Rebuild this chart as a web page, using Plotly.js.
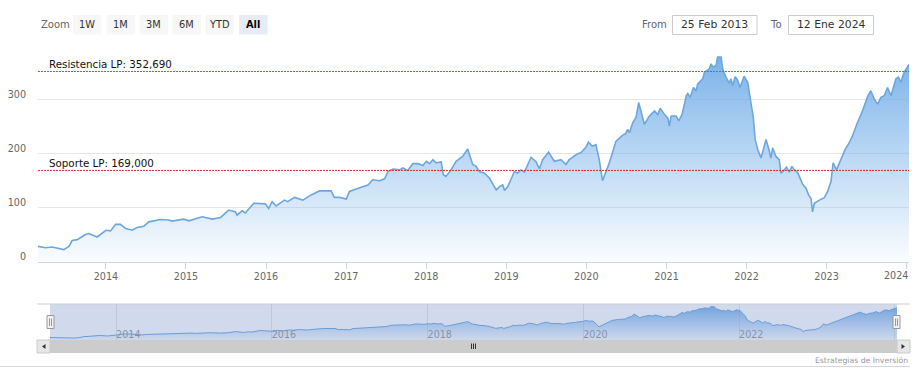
<!DOCTYPE html>
<html>
<head>
<meta charset="utf-8">
<script src="https://cdn.plot.ly/plotly-3.0.1.min.js"></script>
<style>
html,body{margin:0;padding:0;background:#fff;}
#chart{width:919px;height:376px;}
</style>
</head>
<body>
<div id="chart"></div>
<script>
// ---- data ----
const dates = [
'2013-02-25','2013-04-01','2013-05-01','2013-05-31','2013-06-22','2013-07-16','2013-07-31','2013-08-23','2013-09-30','2013-10-15','2013-11-22',
'2014-01-01','2014-01-22','2014-02-14','2014-03-08','2014-04-01','2014-05-01','2014-05-23','2014-06-23','2014-07-15','2014-09-07','2014-10-14','2014-10-30','2014-12-22',
'2015-01-14','2015-03-16','2015-05-01','2015-06-08','2015-07-15','2015-08-15','2015-08-22','2015-09-14','2015-09-29','2015-11-06','2015-12-29',
'2016-01-13','2016-01-29','2016-02-16','2016-03-25','2016-04-09','2016-05-10','2016-06-17','2016-07-25','2016-09-01','2016-10-24','2016-11-08','2016-12-01',
'2017-01-01','2017-01-16','2017-03-03','2017-04-10','2017-05-02','2017-06-02','2017-06-25','2017-07-10','2017-08-02','2017-09-01','2017-09-16','2017-10-09','2017-11-01','2017-11-24','2017-12-17',
'2018-01-01','2018-01-16','2018-01-31','2018-02-15','2018-03-10','2018-03-20','2018-04-01','2018-04-24','2018-05-17','2018-06-16','2018-07-09','2018-07-17','2018-08-01','2018-08-16','2018-08-31','2018-09-23','2018-10-16','2018-11-16','2018-12-01','2018-12-16','2018-12-24',
'2019-01-08','2019-01-23','2019-02-07','2019-02-22','2019-03-09','2019-03-25','2019-04-24','2019-05-17','2019-06-01','2019-06-16','2019-07-13','2019-08-08','2019-09-07','2019-09-30','2019-10-15','2019-11-22','2019-12-07','2019-12-30',
'2020-01-11','2020-01-29','2020-02-14','2020-02-29','2020-03-15','2020-04-15','2020-05-15','2020-06-15','2020-06-27','2020-07-08','2020-07-16','2020-07-31','2020-08-15','2020-08-27','2020-09-07','2020-09-22','2020-10-15','2020-11-07','2020-11-22','2020-12-03','2020-12-23',
'2021-01-07','2021-01-14','2021-01-22','2021-02-14','2021-02-26','2021-03-13','2021-04-01','2021-04-08','2021-04-19','2021-05-04','2021-05-16','2021-05-23','2021-06-15','2021-06-23','2021-07-15','2021-07-23','2021-07-31','2021-08-15','2021-08-22','2021-09-07','2021-09-14','2021-09-29','2021-10-14','2021-10-22','2021-10-29','2021-11-10','2021-11-21','2021-12-02','2021-12-21',
'2022-01-06','2022-01-21','2022-02-01','2022-02-09','2022-02-21','2022-03-08','2022-03-23','2022-03-31','2022-04-15','2022-04-22','2022-04-30','2022-05-15','2022-05-30','2022-06-07','2022-06-22','2022-07-02','2022-07-15','2022-07-27','2022-08-07','2022-08-22','2022-09-14','2022-09-29','2022-10-11','2022-10-22','2022-10-29','2022-11-06','2022-11-29','2022-12-22',
'2023-01-06','2023-01-21','2023-01-31','2023-02-15','2023-03-07','2023-03-27','2023-04-14','2023-04-29','2023-05-22','2023-06-14','2023-07-07','2023-07-22','2023-08-07','2023-08-22','2023-09-06','2023-09-21','2023-10-06','2023-10-22','2023-11-13','2023-11-25','2023-12-06','2023-12-21','2024-01-12'
];
const prices = [
28,25.6,27,24,22,28,39,40.6,50,52,45.5,
58,56.8,69,69,61,58,63,65.5,73.6,78,77,75,78.6,
75.5,83,78.6,81.8,95.5,92,86,94,90,108,107,
98.6,111,103,114,111,119,114,123.6,131,131,119,119,
116,130,137,142,151.7,150,153.5,167,171.7,170,173.6,169,181.6,181.6,178,
186,181.6,189,183,185,161,158,170,186,195,209,198.5,180,176.6,167,164,155,133,139,142,131.6,
139,151.7,167,164,170,166,193.5,185,172,189,203,186,189,180,189,200,201.7,212,
221.5,214,217,189,150,183,223,234.6,237,245,239,258,268,295,276.6,254.7,270,279.6,273,284.6,273,
266,251.5,270,270,261,273,307.7,312,304.7,323,317,329.6,339,351.5,357.7,367,361,364,379.6,379.6,357.7,342,331,339,326,343,337,323,344,
332.7,298,267,226.6,208,192,214,226.6,204.7,192,211,195,189,164,170,175,166,176.6,170,165,143.6,136,123.6,117,92,108,114,118.5,
130,148.5,183,170,189,208,220,233,258,279.6,306,317,301.5,292,304.7,307.7,323,307.7,339,342,332.7,351.5,365.7
];
const resistencia = 352.69;
const soporte = 169.0;
const resistenciaLabel = 'Resistencia LP: 352,690';
const soporteLabel = 'Soporte LP: 169,000';
const yTickVals = [0,100,200,300,400];
const yTickText = ['0','100','200','300',''];
const xTickVals = ['2014-01-01','2015-01-01','2016-01-01','2017-01-01','2018-01-01','2019-01-01','2020-01-01','2021-01-01','2022-01-01','2023-01-01','2024-01-01'];
const xTickText = ['2014','2015','2016','2017','2018','2019','2020','2021','2022','2023',''];
const lastYearLabel = '2024';
const zoomButtons = ['1W','1M','3M','6M','YTD','All'];
const fromText = '25 Feb 2013';
const toText = '12 Ene 2024';
const creditText = 'Estrategias de Inversión';

// ---- helpers (pixel -> paper) ----
const W = 919, H = 376;
const px = x => x / W;
const py = y => 1 - y / H;
const FONT = 'DejaVu Sans, Verdana, sans-serif';

const gradient = {
  type: 'vertical',
  colorscale: [[0, 'rgba(124,181,236,0.04)'], [1, 'rgba(116,174,232,0.95)']],
  start: 0, stop: 380
};

const mainTrace = {
  x: dates, y: prices, type: 'scatter', mode: 'lines',
  line: {color: '#6ea7de', width: 1.6},
  fill: 'tozeroy', fillgradient: gradient,
  xaxis: 'x', yaxis: 'y', hoverinfo: 'skip'
};
const navTrace = {
  x: dates, y: prices, type: 'scatter', mode: 'lines',
  line: {color: '#6ea7de', width: 1},
  fill: 'tozeroy', fillgradient: gradient,
  xaxis: 'x2', yaxis: 'y2', hoverinfo: 'skip'
};

const shapes = [];
const annotations = [];

function rect(x0, y0, x1, y1, fill, line, layer) {
  shapes.push({type: 'rect', xref: 'paper', yref: 'paper',
    x0: px(x0), x1: px(x1), y0: py(y1), y1: py(y0),
    fillcolor: fill, line: line ? {color: line, width: 1} : {width: 0},
    layer: layer || 'above'});
}
function hline(x0, x1, y, color, layer) {
  shapes.push({type: 'line', xref: 'paper', yref: 'paper',
    x0: px(x0), x1: px(x1), y0: py(y), y1: py(y), line: {color: color, width: 1}, layer: layer || 'above'});
}
function vline(x, y0, y1, color) {
  shapes.push({type: 'line', xref: 'paper', yref: 'paper',
    x0: px(x), x1: px(x), y0: py(y0), y1: py(y1), line: {color: color, width: 1}, layer: 'above'});
}
function text(t, x, y, xanchor, size, color, bold) {
  annotations.push({text: bold ? '<b>' + t + '</b>' : t, xref: 'paper', yref: 'paper',
    x: px(x), y: py(y), xanchor: xanchor, yanchor: 'middle', showarrow: false,
    font: {family: FONT, size: size, color: color}});
}

// support / resistance plot lines
shapes.push({type: 'line', xref: 'x domain', yref: 'y', x0: 0, x1: 1, y0: resistencia, y1: resistencia,
  line: {color: '#35a035', width: 1, dash: '2px,1px'}, layer: 'above'});
shapes.push({type: 'line', xref: 'x domain', yref: 'y', x0: 0, x1: 1, y0: soporte, y1: soporte,
  line: {color: '#d0303a', width: 1, dash: '2px,1px'}, layer: 'above'});
annotations.push({text: resistenciaLabel, xref: 'x domain', yref: 'y', x: 0, y: resistencia,
  xanchor: 'left', yanchor: 'bottom', xshift: 9, yshift: -1, showarrow: false,
  font: {family: FONT, size: 10.3, color: '#111'}});
annotations.push({text: soporteLabel, xref: 'x domain', yref: 'y', x: 0, y: soporte,
  xanchor: 'left', yanchor: 'bottom', xshift: 9, yshift: -1, showarrow: false,
  font: {family: FONT, size: 10.3, color: '#111'}});

// last x label kept inside the chart (as the original does)
text(lastYearLabel, 909.5, 275.5, 'right', 9.6, '#666');

// range selector
text('Zoom', 38.5, 24.5, 'left', 10, '#666');
const btnX = [[73,101.5],[106.5,135],[139.5,168],[172.5,201],[205.5,234],[239,267.5]];
zoomButtons.forEach((b, i) => {
  const sel = b === 'All';
  rect(btnX[i][0], 15, btnX[i][1], 34.5, sel ? '#e6ebf5' : '#f7f7f7', null);
  text(b, (btnX[i][0] + btnX[i][1]) / 2, 24.5, 'center', 9.8, sel ? '#000' : '#333', sel);
});
// date inputs
text('From', 639.5, 24.5, 'left', 10, '#666');
rect(672.5, 15.5, 757, 34.5, '#fff', '#cccccc');
text(fromText, 714.8, 24.8, 'center', 10.8, '#333');
text('To', 767.5, 24.5, 'left', 10, '#666');
rect(788.5, 15.5, 873.5, 34.5, '#fff', '#cccccc');
text(toText, 831, 24.8, 'center', 10.8, '#333');

// navigator
rect(50, 304, 897, 340, 'rgba(102,133,194,0.3)', null, 'above');
hline(37, 910, 304, '#cccccc');
// handles
[[47, 54], [893, 900]].forEach(h => {
  rect(h[0], 315.5, h[1], 328.5, '#f2f2f2', '#999999');
  vline(h[0] + 2.5, 318.5, 326, '#999999');
  vline(h[0] + 4.5, 318.5, 326, '#999999');
});
// scrollbar
rect(50, 340, 897, 353, '#cccccc', null);
rect(37, 340, 50, 353, '#e6e6e6', '#cccccc');
rect(897, 340, 910, 353, '#e6e6e6', '#cccccc');
shapes.push({type: 'path', xref: 'paper', yref: 'paper',
  path: `M ${px(45.5)} ${py(344)} L ${px(42)} ${py(346.5)} L ${px(45.5)} ${py(349)} Z`,
  fillcolor: '#333', line: {width: 0}, layer: 'above'});
shapes.push({type: 'path', xref: 'paper', yref: 'paper',
  path: `M ${px(901.5)} ${py(344)} L ${px(905)} ${py(346.5)} L ${px(901.5)} ${py(349)} Z`,
  fillcolor: '#333', line: {width: 0}, layer: 'above'});
[471.5, 473.5, 475.5].forEach(x => vline(x, 343.5, 349, '#333'));

// credits and bottom border
text(creditText, 909.5, 360, 'right', 7.7, '#999');
hline(0, 910, 366.5, '#d6d6e4');

const layout = {
  width: W, height: H,
  margin: {l: 0, r: 0, t: 0, b: 0},
  paper_bgcolor: '#fff', plot_bgcolor: '#fff',
  showlegend: false,
  xaxis: {
    domain: [px(38), px(909)], anchor: 'y', type: 'date',
    range: [dates[0], dates[dates.length - 1]],
    showgrid: false, zeroline: false,
    showline: true, linecolor: '#ccd6eb', linewidth: 1,
    ticks: 'outside', ticklen: 6, tickcolor: '#ccd6eb', tickwidth: 1,
    tickvals: xTickVals, ticktext: xTickText,
    tickfont: {family: FONT, size: 9.6, color: '#666'},
    fixedrange: true
  },
  yaxis: {
    domain: [py(261.5), py(46)], anchor: 'x',
    range: [0, 400],
    tickvals: yTickVals, ticktext: yTickText,
    showgrid: true, gridcolor: '#e6e6e6', gridwidth: 1,
    zeroline: false, showline: false, ticks: '',
    ticklabelstandoff: 11, ticklabelshift: -5,
    tickfont: {family: FONT, size: 9.6, color: '#666'},
    fixedrange: true
  },
  xaxis2: {
    domain: [px(50), px(897)], anchor: 'free', position: py(345.5), type: 'date',
    range: [dates[0], dates[dates.length - 1]],
    showgrid: true, gridcolor: '#e6e6e6', zeroline: false, showline: false,
    ticks: '', tick0: '2014-01-01', dtick: 'M24', tickformat: '%Y',
    ticklabelposition: 'inside right',
    tickfont: {family: FONT, size: 9.6, color: '#999'},
    fixedrange: true
  },
  yaxis2: {
    domain: [py(340), py(304)], anchor: 'x2',
    range: [0, 410], showgrid: false, zeroline: false, showline: false,
    showticklabels: false, ticks: '', fixedrange: true
  },
  shapes: shapes,
  annotations: annotations
};

Plotly.newPlot('chart', [mainTrace, navTrace], layout, {displayModeBar: false, staticPlot: true});
</script>
</body>
</html>
